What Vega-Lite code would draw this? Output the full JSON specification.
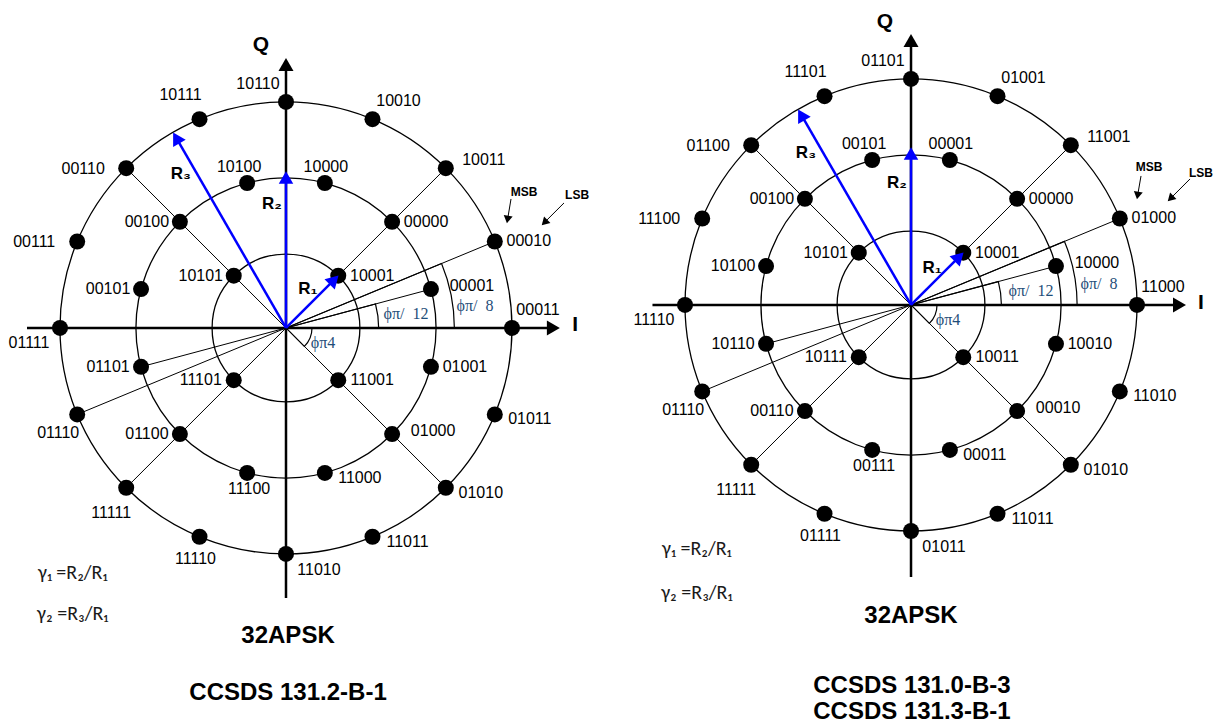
{
  "$schema": "https://vega.github.io/schema/vega-lite/v6.json",
  "padding": 0,
  "bounds": "flush",
  "config": {"view": {"stroke": null}, "axis": {"disable": true}, "legend": {"disable": true}},
  "data": {"values": [
    {"panel":"L","kind":"frame","x":-1.2522,"y":-1.7701},
    {"panel":"L","kind":"frame","x":1.3540,"y":1.4379},
    {"panel":"R","kind":"frame","x":-1.2567,"y":-1.8718},
    {"panel":"R","kind":"frame","x":1.3495,"y":1.3361},

    {"panel":"L","kind":"ring","x":0,"y":0,"r":1},
    {"panel":"L","kind":"ring","x":0,"y":0,"r":0.664},
    {"panel":"L","kind":"ring","x":0,"y":0,"r":0.327},
    {"panel":"R","kind":"ring","x":0,"y":0,"r":1},
    {"panel":"R","kind":"ring","x":0,"y":0,"r":0.664},
    {"panel":"R","kind":"ring","x":0,"y":0,"r":0.327},

    {"panel":"L","kind":"arc","x":0,"y":0,"r":0.41,"a1":0,"a2":15},
    {"panel":"L","kind":"arc","x":0,"y":0,"r":0.745,"a1":0,"a2":22.5},
    {"panel":"L","kind":"arc","x":0,"y":0,"r":0.115,"a1":-45,"a2":0},
    {"panel":"R","kind":"arc","x":0,"y":0,"r":0.40,"a1":0,"a2":15},
    {"panel":"R","kind":"arc","x":0,"y":0,"r":0.735,"a1":0,"a2":22.5},
    {"panel":"R","kind":"arc","x":0,"y":0,"r":0.115,"a1":-45,"a2":0},

    {"panel":"L","kind":"spoke","x":0,"y":0,"x2":0.7071,"y2":0.7071},
    {"panel":"L","kind":"spoke","x":0,"y":0,"x2":-0.7071,"y2":0.7071},
    {"panel":"L","kind":"spoke","x":0,"y":0,"x2":-0.7071,"y2":-0.7071},
    {"panel":"L","kind":"spoke","x":0,"y":0,"x2":0.7071,"y2":-0.7071},
    {"panel":"L","kind":"spoke","x":0,"y":0,"x2":0.6414,"y2":0.1719},
    {"panel":"L","kind":"spoke","x":0,"y":0,"x2":0.9239,"y2":0.3827},
    {"panel":"L","kind":"spoke","x":0,"y":0,"x2":-0.6414,"y2":-0.1719},
    {"panel":"L","kind":"spoke","x":0,"y":0,"x2":-0.9239,"y2":-0.3827},
    {"panel":"R","kind":"spoke","x":0,"y":0,"x2":0.7071,"y2":0.7071},
    {"panel":"R","kind":"spoke","x":0,"y":0,"x2":-0.7071,"y2":0.7071},
    {"panel":"R","kind":"spoke","x":0,"y":0,"x2":-0.7071,"y2":-0.7071},
    {"panel":"R","kind":"spoke","x":0,"y":0,"x2":0.7071,"y2":-0.7071},
    {"panel":"R","kind":"spoke","x":0,"y":0,"x2":0.6414,"y2":0.1719},
    {"panel":"R","kind":"spoke","x":0,"y":0,"x2":0.9239,"y2":0.3827},
    {"panel":"R","kind":"spoke","x":0,"y":0,"x2":-0.6414,"y2":-0.1719},
    {"panel":"R","kind":"spoke","x":0,"y":0,"x2":-0.9239,"y2":-0.3827},

    {"panel":"L","kind":"arrow","role":"axis","x":0,"y":-1.195,"x2":0,"y2":1.166,"dir":90},
    {"panel":"L","kind":"arrow","role":"axis","x":-1.146,"y":0,"x2":1.183,"y2":0,"dir":0},
    {"panel":"L","kind":"arrow","role":"radius","x":0,"y":0,"x2":0.2128,"y2":0.2128,"dir":45},
    {"panel":"L","kind":"arrow","role":"radius","x":0,"y":0,"x2":0,"y2":0.666,"dir":90},
    {"panel":"L","kind":"arrow","role":"radius","x":0,"y":0,"x2":-0.4855,"y2":0.8409,"dir":120},
    {"panel":"L","kind":"arrow","role":"pointer","x":0.9956,"y":0.5708,"x2":0.9804,"y2":0.4799,"dir":260.5},
    {"panel":"L","kind":"arrow","role":"pointer","x":1.2301,"y":0.5531,"x2":1.1437,"y2":0.4668,"dir":225},
    {"panel":"R","kind":"arrow","role":"axis","x":0,"y":-1.204,"x2":0,"y2":1.170,"dir":90},
    {"panel":"R","kind":"arrow","role":"axis","x":-1.144,"y":0,"x2":1.188,"y2":0,"dir":0},
    {"panel":"R","kind":"arrow","role":"radius","x":0,"y":0,"x2":0.2128,"y2":0.2128,"dir":45},
    {"panel":"R","kind":"arrow","role":"radius","x":0,"y":0,"x2":0,"y2":0.670,"dir":90},
    {"panel":"R","kind":"arrow","role":"radius","x":0,"y":0,"x2":-0.4855,"y2":0.8409,"dir":120},
    {"panel":"R","kind":"arrow","role":"pointer","x":1.0177,"y":0.5708,"x2":1.0027,"y2":0.4843,"dir":260},
    {"panel":"R","kind":"arrow","role":"pointer","x":1.2345,"y":0.5575,"x2":1.1482,"y2":0.4712,"dir":225},

    {"panel":"L","kind":"pt","code":"00011","x":1,"y":0,"pos":"NE"},
    {"panel":"L","kind":"pt","code":"00010","x":0.9239,"y":0.3827,"pos":"E"},
    {"panel":"L","kind":"pt","code":"10011","x":0.7071,"y":0.7071,"pos":"ENE"},
    {"panel":"L","kind":"pt","code":"10010","x":0.3827,"y":0.9239,"pos":"NE"},
    {"panel":"L","kind":"pt","code":"10110","x":0,"y":1,"pos":"NW"},
    {"panel":"L","kind":"pt","code":"10111","x":-0.3827,"y":0.9239,"pos":"NWN"},
    {"panel":"L","kind":"pt","code":"00110","x":-0.7071,"y":0.7071,"pos":"WW"},
    {"panel":"L","kind":"pt","code":"00111","x":-0.9239,"y":0.3827,"pos":"WW"},
    {"panel":"L","kind":"pt","code":"01111","x":-1,"y":0,"pos":"SW"},
    {"panel":"L","kind":"pt","code":"01110","x":-0.9239,"y":-0.3827,"pos":"SWS"},
    {"panel":"L","kind":"pt","code":"11111","x":-0.7071,"y":-0.7071,"pos":"SSW"},
    {"panel":"L","kind":"pt","code":"11110","x":-0.3827,"y":-0.9239,"pos":"S2"},
    {"panel":"L","kind":"pt","code":"11010","x":0,"y":-1,"pos":"SE"},
    {"panel":"L","kind":"pt","code":"11011","x":0.3827,"y":-0.9239,"pos":"ESE"},
    {"panel":"L","kind":"pt","code":"01010","x":0.7071,"y":-0.7071,"pos":"ESE"},
    {"panel":"L","kind":"pt","code":"01011","x":0.9239,"y":-0.3827,"pos":"ESE"},
    {"panel":"L","kind":"pt","code":"00001","x":0.6414,"y":0.1719,"pos":"EE"},
    {"panel":"L","kind":"pt","code":"00000","x":0.4695,"y":0.4695,"pos":"E"},
    {"panel":"L","kind":"pt","code":"10000","x":0.1719,"y":0.6414,"pos":"N"},
    {"panel":"L","kind":"pt","code":"10100","x":-0.1719,"y":0.6414,"pos":"NNW"},
    {"panel":"L","kind":"pt","code":"00100","x":-0.4695,"y":0.4695,"pos":"W"},
    {"panel":"L","kind":"pt","code":"00101","x":-0.6414,"y":0.1719,"pos":"W"},
    {"panel":"L","kind":"pt","code":"01101","x":-0.6414,"y":-0.1719,"pos":"W"},
    {"panel":"L","kind":"pt","code":"01100","x":-0.4695,"y":-0.4695,"pos":"W"},
    {"panel":"L","kind":"pt","code":"11100","x":-0.1719,"y":-0.6414,"pos":"S"},
    {"panel":"L","kind":"pt","code":"11000","x":0.1719,"y":-0.6414,"pos":"ESE"},
    {"panel":"L","kind":"pt","code":"01000","x":0.4695,"y":-0.4695,"pos":"EE"},
    {"panel":"L","kind":"pt","code":"01001","x":0.6414,"y":-0.1719,"pos":"E"},
    {"panel":"L","kind":"pt","code":"10001","x":0.2312,"y":0.2312,"pos":"E"},
    {"panel":"L","kind":"pt","code":"10101","x":-0.2312,"y":0.2312,"pos":"W"},
    {"panel":"L","kind":"pt","code":"11101","x":-0.2312,"y":-0.2312,"pos":"W"},
    {"panel":"L","kind":"pt","code":"11001","x":0.2312,"y":-0.2312,"pos":"E"},

    {"panel":"R","kind":"pt","code":"11000","x":1,"y":0,"pos":"NE"},
    {"panel":"R","kind":"pt","code":"01000","x":0.9239,"y":0.3827,"pos":"E"},
    {"panel":"R","kind":"pt","code":"11001","x":0.7071,"y":0.7071,"pos":"ENE"},
    {"panel":"R","kind":"pt","code":"01001","x":0.3827,"y":0.9239,"pos":"NE"},
    {"panel":"R","kind":"pt","code":"01101","x":0,"y":1,"pos":"NW"},
    {"panel":"R","kind":"pt","code":"11101","x":-0.3827,"y":0.9239,"pos":"NWN"},
    {"panel":"R","kind":"pt","code":"01100","x":-0.7071,"y":0.7071,"pos":"WW"},
    {"panel":"R","kind":"pt","code":"11100","x":-0.9239,"y":0.3827,"pos":"WW"},
    {"panel":"R","kind":"pt","code":"11110","x":-1,"y":0,"pos":"SW"},
    {"panel":"R","kind":"pt","code":"01110","x":-0.9239,"y":-0.3827,"pos":"SWS"},
    {"panel":"R","kind":"pt","code":"11111","x":-0.7071,"y":-0.7071,"pos":"SSW"},
    {"panel":"R","kind":"pt","code":"01111","x":-0.3827,"y":-0.9239,"pos":"S2"},
    {"panel":"R","kind":"pt","code":"01011","x":0,"y":-1,"pos":"SE"},
    {"panel":"R","kind":"pt","code":"11011","x":0.3827,"y":-0.9239,"pos":"ESE"},
    {"panel":"R","kind":"pt","code":"01010","x":0.7071,"y":-0.7071,"pos":"ESE"},
    {"panel":"R","kind":"pt","code":"11010","x":0.9239,"y":-0.3827,"pos":"ESE"},
    {"panel":"R","kind":"pt","code":"10000","x":0.6414,"y":0.1719,"pos":"EE"},
    {"panel":"R","kind":"pt","code":"00000","x":0.4695,"y":0.4695,"pos":"E"},
    {"panel":"R","kind":"pt","code":"00001","x":0.1719,"y":0.6414,"pos":"N"},
    {"panel":"R","kind":"pt","code":"00101","x":-0.1719,"y":0.6414,"pos":"NNW"},
    {"panel":"R","kind":"pt","code":"00100","x":-0.4695,"y":0.4695,"pos":"W"},
    {"panel":"R","kind":"pt","code":"10100","x":-0.6414,"y":0.1719,"pos":"W"},
    {"panel":"R","kind":"pt","code":"10110","x":-0.6414,"y":-0.1719,"pos":"W"},
    {"panel":"R","kind":"pt","code":"00110","x":-0.4695,"y":-0.4695,"pos":"W"},
    {"panel":"R","kind":"pt","code":"00111","x":-0.1719,"y":-0.6414,"pos":"S"},
    {"panel":"R","kind":"pt","code":"00011","x":0.1719,"y":-0.6414,"pos":"ESE"},
    {"panel":"R","kind":"pt","code":"00010","x":0.4695,"y":-0.4695,"pos":"EE"},
    {"panel":"R","kind":"pt","code":"10010","x":0.6414,"y":-0.1719,"pos":"E"},
    {"panel":"R","kind":"pt","code":"10001","x":0.2312,"y":0.2312,"pos":"E"},
    {"panel":"R","kind":"pt","code":"10101","x":-0.2312,"y":0.2312,"pos":"W"},
    {"panel":"R","kind":"pt","code":"10111","x":-0.2312,"y":-0.2312,"pos":"W"},
    {"panel":"R","kind":"pt","code":"10011","x":0.2312,"y":-0.2312,"pos":"E"},

    {"panel":"L","kind":"note","role":"axlabel","text":"Q","x":-0.111,"y":1.252},
    {"panel":"L","kind":"note","role":"axlabel","text":"I","x":1.279,"y":0.013},
    {"panel":"L","kind":"note","role":"rlabel","text":"R₃","x":-0.465,"y":0.681},
    {"panel":"L","kind":"note","role":"rlabel","text":"R₂","x":-0.062,"y":0.549},
    {"panel":"L","kind":"note","role":"rlabel","text":"R₁","x":0.097,"y":0.173},
    {"panel":"L","kind":"note","role":"phi","text":"ϕπ/\u00a0\u00a012","x":0.531,"y":0.062},
    {"panel":"L","kind":"note","role":"phi","text":"ϕπ/\u00a0\u00a08","x":0.836,"y":0.097},
    {"panel":"L","kind":"note","role":"phi","text":"ϕπ4","x":0.164,"y":-0.065},
    {"panel":"L","kind":"note","role":"bit","text":"MSB","x":1.053,"y":0.602},
    {"panel":"L","kind":"note","role":"bit","text":"LSB","x":1.288,"y":0.588},
    {"panel":"L","kind":"note","role":"gamma","text":"γ₁ =R₂/R₁","x":-0.944,"y":-1.084},
    {"panel":"L","kind":"note","role":"gamma","text":"γ₂ =R₃/R₁","x":-0.944,"y":-1.265},
    {"panel":"L","kind":"note","role":"title","text":"32APSK","x":0.009,"y":-1.363},
    {"panel":"L","kind":"note","role":"title","text":"CCSDS 131.2-B-1","x":0.009,"y":-1.615},

    {"panel":"R","kind":"note","role":"axlabel","text":"Q","x":-0.115,"y":1.252},
    {"panel":"R","kind":"note","role":"axlabel","text":"I","x":1.283,"y":0.009},
    {"panel":"R","kind":"note","role":"rlabel","text":"R₃","x":-0.465,"y":0.673},
    {"panel":"R","kind":"note","role":"rlabel","text":"R₂","x":-0.062,"y":0.540},
    {"panel":"R","kind":"note","role":"rlabel","text":"R₁","x":0.093,"y":0.164},
    {"panel":"R","kind":"note","role":"phi","text":"ϕπ/\u00a0\u00a012","x":0.531,"y":0.062},
    {"panel":"R","kind":"note","role":"phi","text":"ϕπ/\u00a0\u00a08","x":0.832,"y":0.093},
    {"panel":"R","kind":"note","role":"phi","text":"ϕπ4","x":0.164,"y":-0.066},
    {"panel":"R","kind":"note","role":"bit","text":"MSB","x":1.053,"y":0.611},
    {"panel":"R","kind":"note","role":"bit","text":"LSB","x":1.283,"y":0.584},
    {"panel":"R","kind":"note","role":"gamma","text":"γ₁ =R₂/R₁","x":-0.948,"y":-1.080},
    {"panel":"R","kind":"note","role":"gamma","text":"γ₂ =R₃/R₁","x":-0.948,"y":-1.274},
    {"panel":"R","kind":"note","role":"title","text":"32APSK","x":0,"y":-1.376},
    {"panel":"R","kind":"note","role":"title","text":"CCSDS 131.0-B-3","x":0.004,"y":-1.686},
    {"panel":"R","kind":"note","role":"title","text":"CCSDS 131.3-B-1","x":0.004,"y":-1.799}
  ]},
  "facet": {"column": {"field": "panel", "type": "nominal", "title": null, "header": {"labels": false, "title": null, "labelPadding": 0, "titlePadding": 0}}},
  "spacing": 35,
  "resolve": {"scale": {"x": "independent", "y": "independent"}},
  "spec": {
    "width": 589,
    "height": 725,
    "encoding": {
      "x": {"field": "x", "type": "quantitative", "scale": {"nice": false, "zero": false}},
      "y": {"field": "y", "type": "quantitative", "scale": {"nice": false, "zero": false}}
    },
    "layer": [
      {"transform": [{"filter": "datum.kind === 'frame'"}], "mark": {"type": "point", "opacity": 0}},
      {"transform": [{"filter": "datum.kind === 'ring'"}],
       "mark": {"type": "point", "shape": "circle", "filled": false, "stroke": "#000000", "strokeWidth": 1.3, "opacity": 1, "strokeOpacity": 1},
       "encoding": {
         "size": {"field": "r", "type": "quantitative", "scale": {"type": "pow", "exponent": 2, "domain": [0, 1], "range": [0, 204304]}}
       }},
      {"transform": [{"filter": "datum.kind === 'arc'"}],
       "mark": {"type": "arc", "fill": "transparent", "stroke": "#000000", "strokeWidth": 1.2},
       "encoding": {
         "theta": {"field": "a1", "type": "quantitative", "scale": {"type": "linear", "domain": [90, -270], "range": [0, 6.283185307179586]}},
         "theta2": {"field": "a2"},
         "radius": {"field": "r", "type": "quantitative", "scale": {"type": "linear", "domain": [0, 1], "range": [0, 226]}}
       }},
      {"transform": [{"filter": "datum.kind === 'spoke'"}],
       "mark": {"type": "rule", "stroke": "#000000", "strokeWidth": 1},
       "encoding": {"x2": {"field": "x2"}, "y2": {"field": "y2"}}},
      {"transform": [{"filter": "datum.kind === 'arrow' && datum.role === 'axis'"}],
       "mark": {"type": "rule", "stroke": "#000000", "strokeWidth": 2.5},
       "encoding": {"x2": {"field": "x2"}, "y2": {"field": "y2"}}},
      {"transform": [{"filter": "datum.kind === 'arrow' && datum.role === 'axis'"}],
       "mark": {"type": "point", "shape": "triangle-up", "filled": true, "color": "#000000", "opacity": 1, "size": 225},
       "encoding": {"x": {"field": "x2", "type": "quantitative"}, "y": {"field": "y2", "type": "quantitative"},
         "angle": {"field": "dir", "type": "quantitative", "scale": {"domain": [90, -270], "range": [0, 360]}}}},
      {"transform": [{"filter": "datum.kind === 'arrow' && datum.role === 'pointer'"}],
       "mark": {"type": "rule", "stroke": "#000000", "strokeWidth": 1},
       "encoding": {"x2": {"field": "x2"}, "y2": {"field": "y2"}}},
      {"transform": [{"filter": "datum.kind === 'arrow' && datum.role === 'pointer'"}],
       "mark": {"type": "point", "shape": "triangle-up", "filled": true, "color": "#000000", "opacity": 1, "size": 81},
       "encoding": {"x": {"field": "x2", "type": "quantitative"}, "y": {"field": "y2", "type": "quantitative"},
         "angle": {"field": "dir", "type": "quantitative", "scale": {"domain": [90, -270], "range": [0, 360]}}}},
      {"transform": [{"filter": "datum.kind === 'pt'"}],
       "mark": {"type": "circle", "size": 256, "color": "#000000", "opacity": 1}},
      {"transform": [{"filter": "datum.kind === 'arrow' && datum.role === 'radius'"}],
       "mark": {"type": "rule", "stroke": "#0000ff", "strokeWidth": 2.5},
       "encoding": {"x2": {"field": "x2"}, "y2": {"field": "y2"}}},
      {"transform": [{"filter": "datum.kind === 'arrow' && datum.role === 'radius'"}],
       "mark": {"type": "point", "shape": "triangle-up", "filled": true, "color": "#0000ff", "opacity": 1, "size": 210},
       "encoding": {"x": {"field": "x2", "type": "quantitative"}, "y": {"field": "y2", "type": "quantitative"},
         "angle": {"field": "dir", "type": "quantitative", "scale": {"domain": [90, -270], "range": [0, 360]}}}},

      {"transform": [{"filter": "datum.kind === 'pt' && datum.pos === 'E'"}], "mark": {"type": "text", "dx": 34, "dy": 0, "font": "Liberation Sans", "fontSize": 16, "baseline": "middle", "align": "center", "color": "#000000"}, "encoding": {"text": {"field": "code"}}},
      {"transform": [{"filter": "datum.kind === 'pt' && datum.pos === 'EE'"}], "mark": {"type": "text", "dx": 41, "dy": -3, "font": "Liberation Sans", "fontSize": 16, "baseline": "middle", "align": "center", "color": "#000000"}, "encoding": {"text": {"field": "code"}}},
      {"transform": [{"filter": "datum.kind === 'pt' && datum.pos === 'ENE'"}], "mark": {"type": "text", "dx": 38, "dy": -8, "font": "Liberation Sans", "fontSize": 16, "baseline": "middle", "align": "center", "color": "#000000"}, "encoding": {"text": {"field": "code"}}},
      {"transform": [{"filter": "datum.kind === 'pt' && datum.pos === 'ESE'"}], "mark": {"type": "text", "dx": 35, "dy": 5, "font": "Liberation Sans", "fontSize": 16, "baseline": "middle", "align": "center", "color": "#000000"}, "encoding": {"text": {"field": "code"}}},
      {"transform": [{"filter": "datum.kind === 'pt' && datum.pos === 'W'"}], "mark": {"type": "text", "dx": -33, "dy": 0, "font": "Liberation Sans", "fontSize": 16, "baseline": "middle", "align": "center", "color": "#000000"}, "encoding": {"text": {"field": "code"}}},
      {"transform": [{"filter": "datum.kind === 'pt' && datum.pos === 'WW'"}], "mark": {"type": "text", "dx": -43, "dy": 1, "font": "Liberation Sans", "fontSize": 16, "baseline": "middle", "align": "center", "color": "#000000"}, "encoding": {"text": {"field": "code"}}},
      {"transform": [{"filter": "datum.kind === 'pt' && datum.pos === 'N'"}], "mark": {"type": "text", "dx": 1, "dy": -16, "font": "Liberation Sans", "fontSize": 16, "baseline": "middle", "align": "center", "color": "#000000"}, "encoding": {"text": {"field": "code"}}},
      {"transform": [{"filter": "datum.kind === 'pt' && datum.pos === 'NNW'"}], "mark": {"type": "text", "dx": -8, "dy": -16, "font": "Liberation Sans", "fontSize": 16, "baseline": "middle", "align": "center", "color": "#000000"}, "encoding": {"text": {"field": "code"}}},
      {"transform": [{"filter": "datum.kind === 'pt' && datum.pos === 'NE'"}], "mark": {"type": "text", "dx": 26, "dy": -18, "font": "Liberation Sans", "fontSize": 16, "baseline": "middle", "align": "center", "color": "#000000"}, "encoding": {"text": {"field": "code"}}},
      {"transform": [{"filter": "datum.kind === 'pt' && datum.pos === 'NW'"}], "mark": {"type": "text", "dx": -28, "dy": -18, "font": "Liberation Sans", "fontSize": 16, "baseline": "middle", "align": "center", "color": "#000000"}, "encoding": {"text": {"field": "code"}}},
      {"transform": [{"filter": "datum.kind === 'pt' && datum.pos === 'NWN'"}], "mark": {"type": "text", "dx": -19, "dy": -24, "font": "Liberation Sans", "fontSize": 16, "baseline": "middle", "align": "center", "color": "#000000"}, "encoding": {"text": {"field": "code"}}},
      {"transform": [{"filter": "datum.kind === 'pt' && datum.pos === 'SW'"}], "mark": {"type": "text", "dx": -31, "dy": 15, "font": "Liberation Sans", "fontSize": 16, "baseline": "middle", "align": "center", "color": "#000000"}, "encoding": {"text": {"field": "code"}}},
      {"transform": [{"filter": "datum.kind === 'pt' && datum.pos === 'SWS'"}], "mark": {"type": "text", "dx": -19, "dy": 19, "font": "Liberation Sans", "fontSize": 16, "baseline": "middle", "align": "center", "color": "#000000"}, "encoding": {"text": {"field": "code"}}},
      {"transform": [{"filter": "datum.kind === 'pt' && datum.pos === 'SSW'"}], "mark": {"type": "text", "dx": -15, "dy": 25, "font": "Liberation Sans", "fontSize": 16, "baseline": "middle", "align": "center", "color": "#000000"}, "encoding": {"text": {"field": "code"}}},
      {"transform": [{"filter": "datum.kind === 'pt' && datum.pos === 'S2'"}], "mark": {"type": "text", "dx": -4, "dy": 22, "font": "Liberation Sans", "fontSize": 16, "baseline": "middle", "align": "center", "color": "#000000"}, "encoding": {"text": {"field": "code"}}},
      {"transform": [{"filter": "datum.kind === 'pt' && datum.pos === 'S'"}], "mark": {"type": "text", "dx": 2, "dy": 16, "font": "Liberation Sans", "fontSize": 16, "baseline": "middle", "align": "center", "color": "#000000"}, "encoding": {"text": {"field": "code"}}},
      {"transform": [{"filter": "datum.kind === 'pt' && datum.pos === 'SE'"}], "mark": {"type": "text", "dx": 33, "dy": 16, "font": "Liberation Sans", "fontSize": 16, "baseline": "middle", "align": "center", "color": "#000000"}, "encoding": {"text": {"field": "code"}}},

      {"transform": [{"filter": "datum.kind === 'note' && datum.role === 'axlabel'"}], "mark": {"type": "text", "font": "Liberation Sans", "fontWeight": "bold", "fontSize": 21, "baseline": "middle", "align": "center", "color": "#000000"}, "encoding": {"text": {"field": "text"}}},
      {"transform": [{"filter": "datum.kind === 'note' && datum.role === 'rlabel'"}], "mark": {"type": "text", "font": "Liberation Sans", "fontWeight": "bold", "fontSize": 17, "baseline": "middle", "align": "center", "color": "#000000"}, "encoding": {"text": {"field": "text"}}},
      {"transform": [{"filter": "datum.kind === 'note' && datum.role === 'phi'"}], "mark": {"type": "text", "font": "Liberation Serif", "fontSize": 16, "baseline": "middle", "align": "center", "color": "#1f4e79"}, "encoding": {"text": {"field": "text"}}},
      {"transform": [{"filter": "datum.kind === 'note' && datum.role === 'bit'"}], "mark": {"type": "text", "font": "Liberation Sans", "fontWeight": "bold", "fontSize": 12, "baseline": "middle", "align": "center", "color": "#000000"}, "encoding": {"text": {"field": "text"}}},
      {"transform": [{"filter": "datum.kind === 'note' && datum.role === 'gamma'"}], "mark": {"type": "text", "font": "Carlito, Lato, DejaVu Sans, sans-serif", "fontSize": 20, "baseline": "middle", "align": "center", "color": "#1a1a1a"}, "encoding": {"text": {"field": "text"}}},
      {"transform": [{"filter": "datum.kind === 'note' && datum.role === 'title'"}], "mark": {"type": "text", "font": "Liberation Sans", "fontWeight": "bold", "fontSize": 24, "baseline": "middle", "align": "center", "color": "#000000"}, "encoding": {"text": {"field": "text"}}}
    ]
  }
}
